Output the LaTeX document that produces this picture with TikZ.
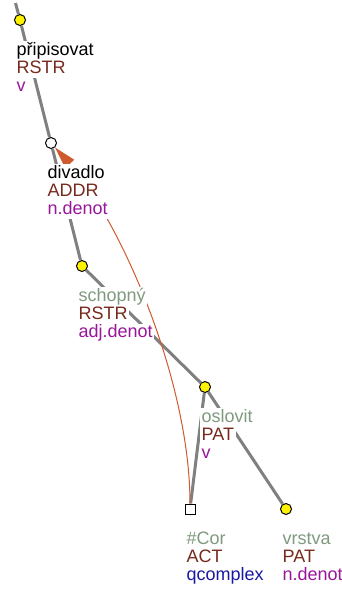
\documentclass[tikz,border=0pt]{standalone}
\usepackage{fontspec}
\setmainfont{Liberation Sans}
\usetikzlibrary{arrows.meta}
\definecolor{edgegray}{HTML}{808080}
\definecolor{lemgray}{HTML}{7F9A7F}
\definecolor{functor}{HTML}{772A1C}
\definecolor{subfun}{HTML}{99169A}
\definecolor{qcompl}{HTML}{1A1AA0}
\definecolor{coref}{HTML}{CF5A2E}
\begin{document}
\begin{tikzpicture}[x=1pt,y=-1pt,
  font=\fontsize{18}{18}\selectfont,
  tnode/.style={circle,draw=black,line width=1pt,fill=yellow,minimum size=11pt,inner sep=0pt},
  gennode/.style={circle,draw=black,line width=1pt,fill=white,minimum size=11pt,inner sep=0pt},
  cornode/.style={rectangle,draw=black,line width=1pt,fill=white,minimum size=10pt,inner sep=0pt},
  txt/.style={anchor=base west,fill=white,inner xsep=1.5pt,inner ysep=0pt,text height=14pt,text depth=4.3pt},
  treeedge/.style={edgegray,line width=3pt},
  corefarrow/.style={coref,line width=1pt,-{Triangle[length=22pt,width=12pt]}}]
\useasboundingbox (0,0) rectangle (342,592);
\coordinate (top) at (15.5,3);
\node[tnode] (n1) at (20,20) {};
\node[gennode] (n2) at (51,143) {};
\node[tnode] (n3) at (82,266) {};
\node[tnode] (n4) at (205,387) {};
\node[cornode] (n5) at (190,509) {};
\node[tnode] (n6) at (286,509) {};
%% edges
\draw[treeedge] (top) -- (n1);
\draw[treeedge] (n1) -- (n2);
\draw[treeedge] (n2) -- (n3);
\draw[treeedge] (n3) -- (n4);
\draw[treeedge] (n4) -- (n5);
\draw[treeedge] (n4) -- (n6);
\draw[corefarrow] (n5) .. controls (190,380) and (120,220) .. (n2);
%% labels
\node[txt] (n1l) at (15,55) {připisovat};
\node[txt,text=functor] (n1f) at (15,73.3) {RSTR};
\node[txt,text=subfun] (n1s) at (15,91.7) {v};
\node[txt] (n2l) at (46,178) {divadlo};
\node[txt,text=functor] (n2f) at (46,196.3) {ADDR};
\node[txt,text=subfun] (n2s) at (46,214.7) {n.denot};
\node[txt,text=lemgray] (n3l) at (77,301) {schopný};
\node[txt,text=functor] (n3f) at (77,319.3) {RSTR};
\node[txt,text=subfun] (n3s) at (77,337.7) {adj.denot};
\node[txt,text=lemgray] (n4l) at (200,422) {oslovit};
\node[txt,text=functor] (n4f) at (200,440.3) {PAT};
\node[txt,text=subfun] (n4s) at (200,458.7) {v};
\node[txt,text=lemgray] (n5l) at (185,544) {\#Cor};
\node[txt,text=functor] (n5f) at (185,562.3) {ACT};
\node[txt,text=qcompl] (n5s) at (185,580.7) {qcomplex};
\node[txt,text=lemgray] (n6l) at (281,544) {vrstva};
\node[txt,text=functor] (n6f) at (281,562.3) {PAT};
\node[txt,text=subfun] (n6s) at (281,580.7) {n.denot};
\end{tikzpicture}
\end{document}
